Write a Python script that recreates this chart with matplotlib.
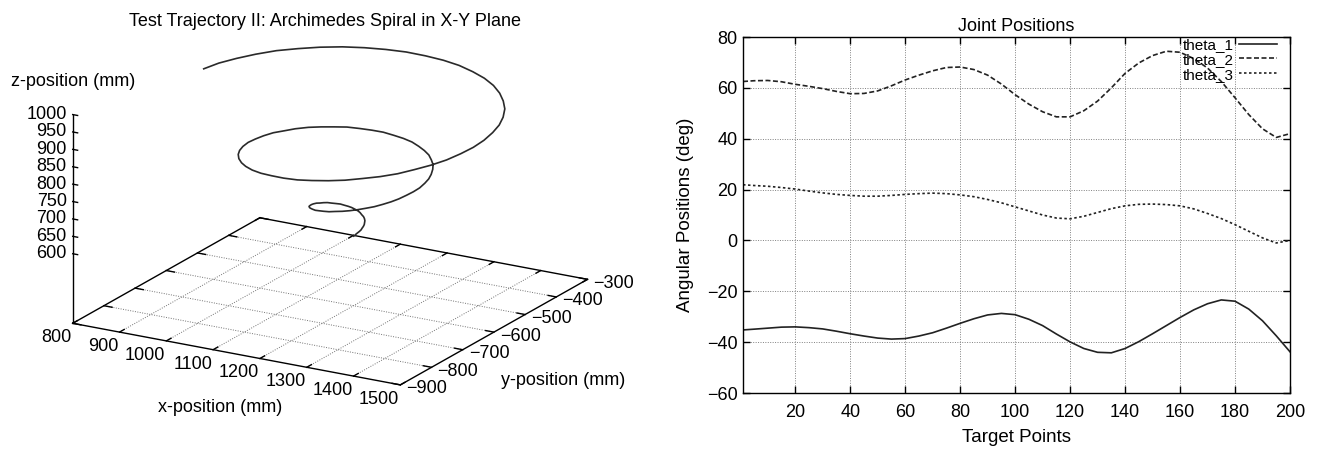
import matplotlib
matplotlib.use("Agg")
import matplotlib.pyplot as plt
from matplotlib.transforms import IdentityTransform
from mpl_toolkits.mplot3d import proj3d

plt.rcParams['font.family'] = ['Liberation Sans', 'DejaVu Sans']

# spiral trajectory, points (every 7.5 deg along the spiral)
spiral_x = [1200, 1203, 1205, 1207, 1209, 1211, 1211, 1211, 1211, 1209,
            1207, 1204, 1200, 1195, 1190, 1185, 1179, 1172, 1166, 1160,
            1154, 1148, 1143, 1139, 1136, 1134, 1133, 1133, 1135, 1139,
            1143, 1150, 1157, 1166, 1177, 1188, 1200, 1213, 1226, 1240,
            1253, 1267, 1279, 1291, 1302, 1311, 1318, 1324, 1328, 1330,
            1329, 1326, 1320, 1312, 1302, 1289, 1275, 1258, 1240, 1221,
            1200, 1179, 1157, 1136, 1115, 1094, 1076, 1058, 1043, 1029,
            1020, 1012, 1008, 1007, 1009, 1015, 1024, 1037, 1053, 1072,
            1093, 1117, 1143, 1171, 1200, 1230, 1259, 1289, 1317, 1344,
            1370, 1393, 1412, 1429, 1442, 1451, 1456, 1456, 1452, 1444,
            1431, 1414, 1392, 1367, 1339, 1307, 1273, 1237, 1200, 1162,
            1124, 1087, 1051, 1017, 985, 957, 932, 912, 896, 885, 880]
spiral_y = [-600, -600, -599, -597, -595, -592, -589, -585, -582, -578,
            -574, -571, -568, -566, -564, -563, -563, -564, -566, -569,
            -573, -579, -585, -592, -600, -609, -618, -628, -637, -647,
            -657, -666, -674, -681, -688, -693, -696, -698, -698, -696,
            -692, -687, -679, -670, -659, -646, -632, -616, -600, -583,
            -565, -548, -531, -514, -498, -484, -471, -460, -451, -444,
            -440, -439, -440, -445, -452, -462, -476, -491, -509, -530,
            -552, -575, -600, -625, -651, -677, -701, -725, -747, -767,
            -785, -800, -811, -819, -824, -825, -822, -814, -803, -788,
            -770, -748, -723, -695, -665, -633, -600, -566, -532, -499,
            -467, -436, -408, -382, -360, -341, -327, -317, -312, -312,
            -317, -327, -341, -361, -385, -413, -445, -481, -519, -559, -600]
spiral_z = [600, 603, 607, 610, 613, 617, 620, 623, 627, 630,
            633, 637, 640, 643, 647, 650, 653, 657, 660, 663,
            667, 670, 673, 677, 680, 683, 687, 690, 693, 697,
            700, 703, 707, 710, 713, 717, 720, 723, 727, 730,
            733, 737, 740, 743, 747, 750, 753, 757, 760, 763,
            767, 770, 773, 777, 780, 783, 787, 790, 793, 797,
            800, 803, 807, 810, 813, 817, 820, 823, 827, 830,
            833, 837, 840, 843, 847, 850, 853, 857, 860, 863,
            867, 870, 873, 877, 880, 883, 887, 890, 893, 897,
            900, 903, 907, 910, 913, 917, 920, 923, 927, 930,
            933, 937, 940, 943, 947, 950, 953, 957, 960, 963,
            967, 970, 973, 977, 980, 983, 987, 990, 993, 997, 1000]

x_ticks3d = [800, 900, 1000, 1100, 1200, 1300, 1400, 1500]
y_ticks3d = [-900, -800, -700, -600, -500, -400, -300]
z_ticks3d = [600, 650, 700, 750, 800, 850, 900, 950, 1000]
z_floor = 400

# joint positions
target_pts = [1, 5, 10, 15, 20, 25, 30, 35, 40, 45, 50, 55, 60, 65, 70, 75, 80, 85, 90, 95,
              100, 105, 110, 115, 120, 125, 130, 135, 140, 145, 150, 155, 160, 165, 170, 175,
              180, 185, 190, 195, 200]
theta_1 = [-35.2, -34.9, -34.5, -34.1, -34.0, -34.3, -34.8, -35.7, -36.7, -37.6, -38.4, -38.8,
           -38.6, -37.6, -36.3, -34.5, -32.6, -30.8, -29.3, -28.7, -29.2, -31.0, -33.5, -36.8,
           -39.9, -42.5, -44.0, -44.2, -42.5, -39.8, -36.7, -33.5, -30.3, -27.3, -24.9, -23.4,
           -23.9, -27.0, -31.6, -37.5, -43.8]
theta_2 = [62.5, 62.8, 62.9, 62.4, 61.4, 60.6, 59.7, 58.6, 57.7, 57.8, 58.8, 60.8, 63.1, 65.0,
           66.7, 68.0, 68.2, 67.2, 65.0, 61.5, 57.3, 53.6, 50.6, 48.6, 48.6, 51.0, 54.8, 60.0,
           65.7, 69.8, 72.7, 74.4, 74.0, 71.5, 67.8, 62.5, 56.1, 49.5, 43.9, 40.5, 42.0]
theta_3 = [21.9, 21.6, 21.3, 20.8, 20.2, 19.4, 18.7, 18.1, 17.7, 17.4, 17.4, 17.7, 18.1, 18.4,
           18.6, 18.4, 17.9, 17.2, 16.1, 14.8, 13.2, 11.6, 10.0, 8.8, 8.5, 9.5, 11.0, 12.5,
           13.6, 14.2, 14.3, 14.1, 13.6, 12.4, 10.6, 8.6, 6.2, 3.6, 1.0, -1.0, 0.0]

fig = plt.figure(figsize=(13.22, 4.5), dpi=100)

# ---------------- left: 3D spiral ----------------
ax3 = fig.add_axes([0.0, 0.0, 0.5, 1.0], projection='3d', proj_type='ortho')
ax3.view_init(elev=19, azim=-60)
ax3.set_box_aspect((377, 373, 220))
x0, x1 = x_ticks3d[0], x_ticks3d[-1]
y0, y1 = y_ticks3d[0], y_ticks3d[-1]
ax3.set_xlim(x0, x1)
ax3.set_ylim(y0, y1)
ax3.set_zlim(z_floor, z_ticks3d[-1])
ax3.set_axis_off()
ax3.computed_zorder = False

grid_kw = dict(color='0.45', lw=0.7, ls=(0, (1, 1.5)), zorder=1)
for xv in x_ticks3d[1:-1]:
    ax3.plot([xv, xv], [y0, y1], [z_floor, z_floor], **grid_kw)
for yv in y_ticks3d[1:-1]:
    ax3.plot([x0, x1], [yv, yv], [z_floor, z_floor], **grid_kw)

ax3.plot([x0, x1, x1, x0, x0], [y0, y0, y1, y1, y0], [z_floor] * 5, color='k', lw=1, zorder=2)
tl_y = 0.025 * (y1 - y0)
tl_x = 0.025 * (x1 - x0)
for xv in x_ticks3d:
    ax3.plot([xv, xv], [y0, y0 + tl_y], [z_floor, z_floor], color='k', lw=1, zorder=2)
    ax3.plot([xv, xv], [y1, y1 - tl_y], [z_floor, z_floor], color='k', lw=1, zorder=2)
for yv in y_ticks3d:
    ax3.plot([x1, x1 - tl_x], [yv, yv], [z_floor, z_floor], color='k', lw=1, zorder=2)
    ax3.plot([x0, x0 + tl_x], [yv, yv], [z_floor, z_floor], color='k', lw=1, zorder=2)
ax3.plot([x0, x0], [y0, y0], [z_floor, z_ticks3d[-1]], color='k', lw=1, zorder=2)
for zv in z_ticks3d:
    ax3.plot([x0, x0 + tl_x * 0.6], [y0, y0], [zv, zv], color='k', lw=1, zorder=2)

ax3.plot(spiral_x, spiral_y, spiral_z, color='#2a2a2a', lw=1.2, zorder=3)

# fit the projected floor into the place it has in the reference
fig.canvas.draw()


def to_px(x, y, z):
    xs, ys, _ = proj3d.proj_transform(x, y, z, ax3.M)
    return ax3.transData.transform((xs, ys))


W, H = fig.bbox.width, fig.bbox.height
pos = ax3.get_position()
S = pos.width * W
cx, cy = (pos.x0 + pos.width / 2) * W, (pos.y0 + pos.height / 2) * H
pa = to_px(x0, y0, z_floor)
pc = to_px(x1, y1, z_floor)
na = ((pa[0] - cx) / S, (pa[1] - cy) / S)
nc = ((pc[0] - cx) / S, (pc[1] - cy) / S)
ta, tc = (72.7, 450 - 323.3), (587.5, 450 - 280.0)
S2 = (tc[0] - ta[0]) / (nc[0] - na[0])
cx2 = ta[0] - S2 * na[0]
cy2 = ta[1] - S2 * na[1]
ax3.set_position([(cx2 - S2 / 2) / W, (cy2 - S2 / 2) / H, S2 / W, S2 / H])
fig.canvas.draw()


def label3d(x, y, z, s, dx, dy, **kw):
    px, py = to_px(x, y, z)
    fig.text(px + dx, py + dy, s, transform=IdentityTransform(), **kw)


fs = 13
for xv in x_ticks3d:
    label3d(xv, y0, z_floor, str(xv), -1, -6, ha='right', va='top', fontsize=fs)
for yv in y_ticks3d:
    label3d(x1, yv, z_floor, '\u2212' + str(-yv), 6, -4, ha='left', va='center', fontsize=fs)
for zv in z_ticks3d:
    label3d(x0, y0, zv, str(zv), -6, 0, ha='right', va='center', fontsize=fs)
label3d(x0, y0, z_ticks3d[-1], 'z-position (mm)', 0, 33, ha='center', va='center', fontsize=fs)
label3d((x0 + x1) / 2, y0, z_floor, 'x-position (mm)', -16, -53, ha='center', va='center',
        fontsize=fs)
label3d(x1, (y0 + y1) / 2, z_floor, 'y-position (mm)', 69, -48, ha='center', va='center',
        fontsize=fs)
fig.text(325 / 1322, 1 - 21 / 450, 'Test Trajectory II: Archimedes Spiral in X-Y Plane',
         ha='center', va='center', fontsize=13)

# ---------------- right: joint positions ----------------
ax = fig.add_axes([743 / 1322, 57 / 450, 547 / 1322, 356 / 450])
ax.plot(target_pts, theta_1, color='#222222', lw=1.2, label='theta_1')
ax.plot(target_pts, theta_2, color='#222222', lw=1.2, ls=(0, (3, 1.5)), label='theta_2')
ax.plot(target_pts, theta_3, color='#222222', lw=1.2, ls=(0, (1.5, 1.5)), label='theta_3')
ax.set_xlim(1, 200)
ax.set_ylim(-60, 80)
ax.set_xticks(range(20, 201, 20))
ax.set_yticks(range(-60, 81, 20))
ax.grid(True, color='0.5', lw=0.7, ls=(0, (1, 1.5)))
ax.tick_params(direction='in', top=True, right=True, length=5, width=1, labelsize=13)
ax.tick_params(axis='x', pad=8)
ax.tick_params(axis='y', pad=4)
for s in ax.spines.values():
    s.set_linewidth(1)
ax.set_title('Joint Positions', fontsize=13, pad=4)
ax.set_xlabel('Target Points', fontsize=13.5, labelpad=6)
ax.set_ylabel('Angular Positions (deg)', fontsize=13.5, labelpad=9)
ax.legend(loc='upper right', bbox_to_anchor=(1 - 13 / 547, 1 - 1 / 356), frameon=False,
          markerfirst=False, fontsize=11, handlelength=2.5, handletextpad=0.3,
          labelspacing=0.05, borderpad=0, borderaxespad=0)

fig.savefig('out.png', dpi=100)
